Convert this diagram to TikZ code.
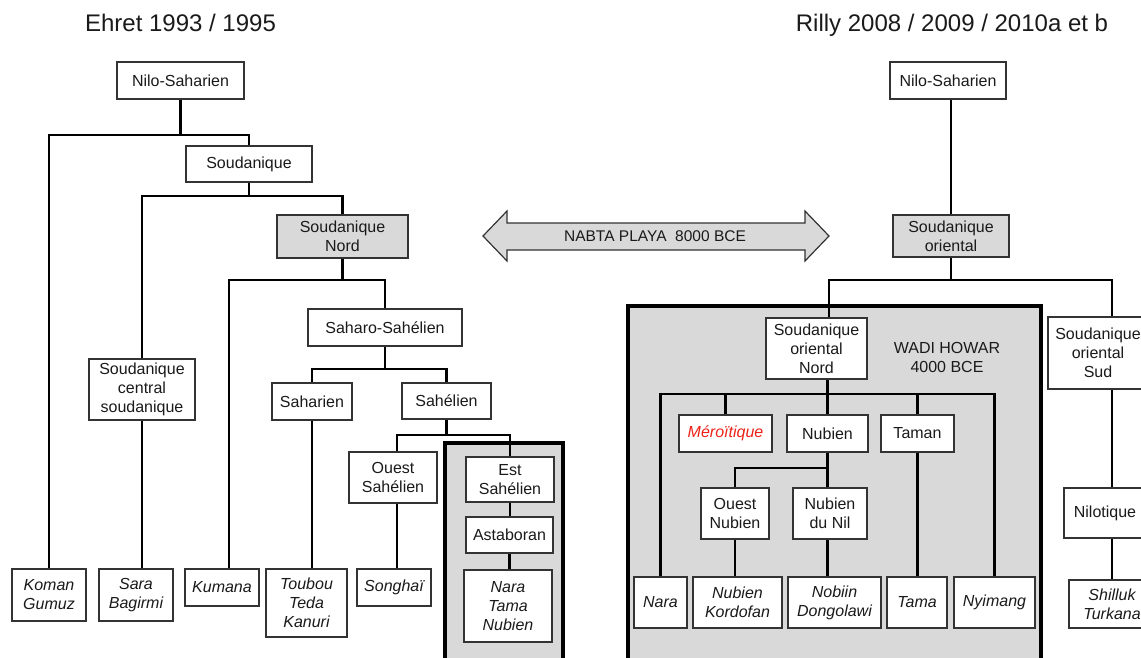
\documentclass[tikz,border=0pt]{standalone}
\usepackage{fontspec}
\setmainfont{Liberation Sans}
\usetikzlibrary{calc}
\definecolor{frame}{HTML}{D9D9D9}
\definecolor{bord}{HTML}{333333}
\definecolor{txt}{HTML}{1A1A1A}
\definecolor{mero}{RGB}{238,34,24}
\begin{document}
\begin{tikzpicture}[x=1pt,y=-1pt,
  bx/.style 2 args={draw=bord,line width=1.2pt,fill=white,inner sep=0pt,align=center,
    minimum width=#1,minimum height=#2,font=\fontsize{16}{19}\selectfont,text=txt},
  lang/.style={font=\fontsize{16}{19}\selectfont\itshape},
  cn/.style={line width=2.6pt,black,line join=miter},
  gframe/.style={fill=frame,draw=black,line width=3.8pt},
  titletext/.style={font=\fontsize{24}{28}\selectfont,text=txt,anchor=base,inner sep=0pt}
]
\useasboundingbox (0,0) rectangle (1141,657);
\clip (0,0) rectangle (1141,657);
\fill[white] (0,0) rectangle (1141,657);

% titles
\node[titletext] (tL) at (180.5,31) {Ehret 1993 / 1995};
\node[titletext] (tR) at (952,31) {Rilly 2008 / 2009 / 2010a et b};

% grey frames
\draw[gframe] (445,443) rectangle (563,690);
\draw[gframe] (628,306) rectangle (1041,690);

% double arrow
\draw[fill=frame,draw=bord,line width=1.2pt,line join=miter]
  (483,236) -- (507,211) -- (507,223) -- (805,223) -- (805,211) -- (829,236)
  -- (805,261) -- (805,250) -- (507,250) -- (507,261) -- cycle;
\node[font=\fontsize{15.5}{19}\selectfont,text=txt] (nabta) at (655,236.5) {NABTA PLAYA\ \ 8000 BCE};

% ---------- left tree ----------
\node[bx={127}{37}] (nsL) at (180.5,80.5) {Nilo-Saharien};
\node[bx={126}{36}] (soud) at (249,164) {Soudanique};
\node[bx={131}{43},fill=frame] (snord) at (342.5,236.5) {Soudanique\\Nord};
\node[bx={154}{37}] (saharo) at (385,327.5) {Saharo-Sahélien};
\node[bx={106}{61}] (scs) at (142,389.5) {Soudanique\\central\\soudanique};
\node[bx={80}{37}] (saharien) at (312,401.5) {Saharien};
\node[bx={89}{36}] (sahel) at (446.5,401) {Sahélien};
\node[bx={88}{51}] (ouest) at (393,477.5) {Ouest\\Sahélien};
\node[bx={88}{45}] (estS) at (510,479.5) {Est\\Sahélien};
\node[bx={87}{36}] (astab) at (509.5,535) {Astaboran};
\node[bx={88}{72},lang] (ntn) at (508,606) {Nara\\Tama\\Nubien};
\node[bx={74}{52},lang] (koman) at (49,595) {Koman\\Gumuz};
\node[bx={74}{52},lang] (sara) at (136,595) {Sara\\Bagirmi};
\node[bx={74}{37},lang] (kumana) at (222,587.5) {Kumana};
\node[bx={81}{68},lang] (toubou) at (306.5,603) {Toubou\\Teda\\Kanuri};
\node[bx={74}{37},lang] (songhai) at (394,587.5) {Songhaï};

% ---------- right tree ----------
\node[bx={116}{37}] (nsR) at (948,80.5) {Nilo-Saharien};
\node[bx={116}{42},fill=frame] (sor) at (951,236) {Soudanique\\oriental};
\node[bx={101}{61}] (son) at (816.5,348.5) {Soudanique\\oriental\\Nord};
\node[bx={100}{72}] (sos) at (1098,353) {Soudanique\\oriental\\Sud};
\node[font=\fontsize{16}{19}\selectfont,text=txt,align=center] (wadi) at (947,357) {WADI HOWAR\\4000 BCE};
\node[bx={93}{37},lang,text=mero] (mero) at (725.5,433.5) {Méroïtique};
\node[bx={81}{37}] (nub) at (827.5,433.5) {Nubien};
\node[bx={73}{37}] (taman) at (917.5,433.5) {Taman};
\node[bx={68}{51}] (oN) at (735,513.5) {Ouest\\Nubien};
\node[bx={74}{51}] (nN) at (830,513.5) {Nubien\\du Nil};
\node[bx={82}{50}] (nilo) at (1105,513) {Nilotique};
\node[bx={53}{51},lang] (nara) at (660.5,602.5) {Nara};
\node[bx={89}{51},lang] (kord) at (737.5,602.5) {Nubien\\Kordofan};
\node[bx={93}{51},lang] (nobiin) at (834.5,602.5) {Nobiin\\Dongolawi};
\node[bx={60}{51},lang] (tama) at (917,602.5) {Tama};
\node[bx={81}{51},lang] (nyim) at (994.5,602.5) {Nyimang};
\node[bx={86}{48},lang] (shil) at (1112,604) {Shilluk\\Turkana};

% bar levels and connector columns
\coordinate (yA) at (0,135);
\coordinate (yB) at (0,196);
\coordinate (yC) at (0,280);
\coordinate (yD) at (0,369);
\coordinate (yE) at (0,435);
\coordinate (yF) at (0,280);
\coordinate (yG) at (0,394);
\coordinate (yH) at (0,468);
\coordinate (xK) at (229,0);
\coordinate (xO) at (397,0);
\coordinate (xN) at (829,0);
\coordinate (xS) at (1112,0);

% ---------- left connectors ----------
\draw[cn] (nsL.south) -- (nsL.south |- yA);
\draw[cn] (koman.north) |- (soud.north |- yA) -- (soud.north);
\draw[cn] (soud.south) -- (soud.south |- yB);
\draw[cn] (scs.north) |- (snord.north |- yB) -- (snord.north);
\draw[cn] (scs.south) -- (scs.south |- sara.north);
\draw[cn] (snord.south) -- (snord.south |- yC);
\draw[cn] (kumana.north -| xK) |- (saharo.north |- yC) -- (saharo.north);
\draw[cn] (saharo.south) -- (saharo.south |- yD);
\draw[cn] (saharien.north) |- (sahel.north |- yD) -- (sahel.north);
\draw[cn] (saharien.south) -- (saharien.south |- toubou.north);
\draw[cn] (sahel.south) -- (sahel.south |- yE);
\draw[cn] (ouest.north -| xO) |- (estS.north |- yE) -- (estS.north);
\draw[cn] (ouest.south -| xO) -- (songhai.north -| xO);
\draw[cn] (estS.south) -- (estS.south |- astab.north);
\draw[cn] (astab.south) -- (astab.south |- ntn.north);

% ---------- right connectors ----------
\draw[cn] (sor.north |- nsR.south) -- (sor.north);
\draw[cn] (sor.south) -- (sor.south |- yF);
\draw[cn] (son.north -| xN) -- (xN |- yF) -- (xS |- yF) -- (sos.north -| xS);
\draw[cn] (son.south -| nub.north) -- (nub.north);
\draw[cn] (nara.north) |- (nyim.north |- yG) -- (nyim.north);
\draw[cn] (mero.north) -- (mero.north |- yG);
\draw[cn] (taman.north) -- (taman.north |- yG);
\draw[cn] (taman.south) -- (taman.south |- tama.north);
\draw[cn] (nub.south) -- (nub.south |- nN.north);
\draw[cn] (oN.north) |- (nub.south |- yH);
\draw[cn] (oN.south) -- (oN.south |- kord.north);
\draw[cn] (nN.south -| nub.south) -- (nobiin.north -| nub.south);
\draw[cn] (sos.south -| xS) -- (nilo.north -| xS);
\draw[cn] (nilo.south -| xS) -- (shil.north -| xS);
\end{tikzpicture}
\end{document}
